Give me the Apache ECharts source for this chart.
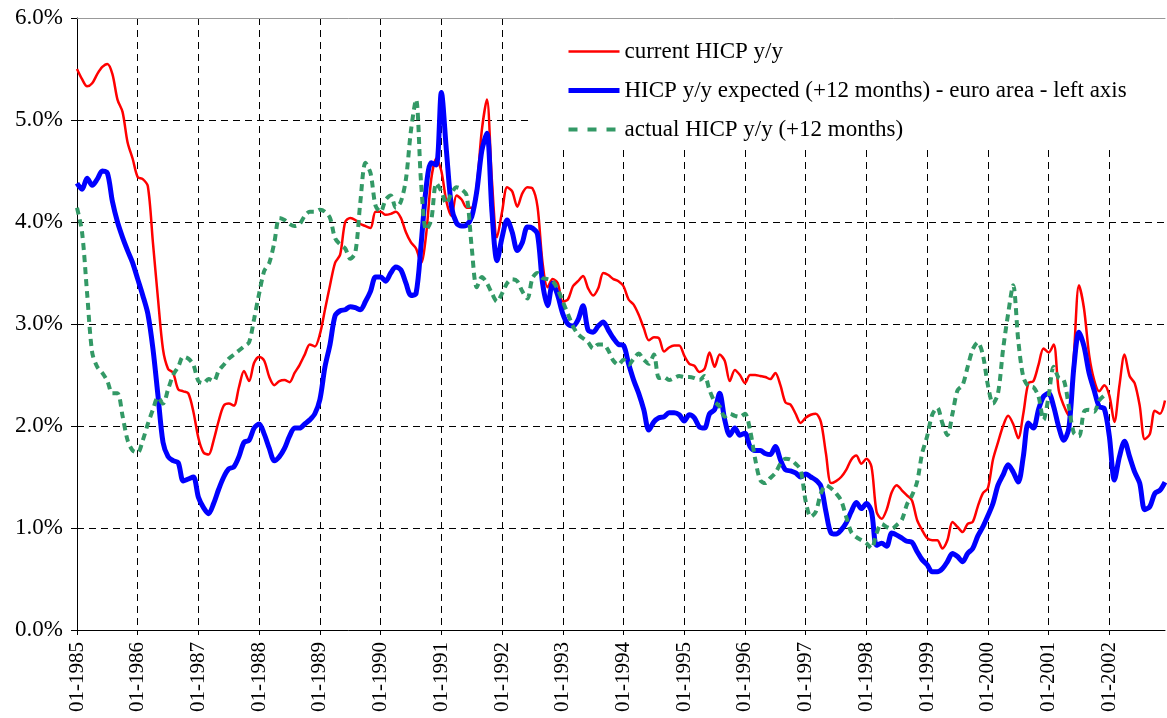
<!DOCTYPE html>
<html>
<head>
<meta charset="utf-8">
<title>HICP y/y</title>
<script src="https://cdn.jsdelivr.net/npm/echarts@6/dist/echarts.min.js"></script>
<style>
  html, body { margin: 0; padding: 0; background: #fff; }
  #chart { width: 1167px; height: 718px; }
</style>
</head>
<body>
<div id="chart"></div>
<script>
// monthly values, 01-1985 .. 12-2002, in %
const currentHicp = [
  5.5, 5.4, 5.33, 5.36, 5.45, 5.52, 5.55, 5.45, 5.2, 5.08, 4.78, 4.62,
  4.44, 4.42, 4.35, 3.8, 3.25, 2.75, 2.56, 2.52, 2.36, 2.34, 2.32, 2.14,
  1.88, 1.74, 1.72, 1.86, 2.05, 2.2, 2.22, 2.2, 2.38, 2.54, 2.44, 2.62,
  2.68, 2.64, 2.48, 2.4, 2.44, 2.45, 2.43, 2.52, 2.6, 2.7, 2.8, 2.78,
  2.9, 3.14, 3.38, 3.6, 3.68, 4.0, 4.04, 4.02, 3.98, 3.96, 3.94, 4.1,
  4.1, 4.07, 4.08, 4.1, 4.04, 3.9, 3.8, 3.74, 3.6, 3.88, 4.42, 4.62,
  4.5, 4.2, 4.06, 4.26, 4.22, 4.14, 4.14, 4.36, 4.9, 5.2, 4.4, 3.85,
  4.1, 4.34, 4.3, 4.15, 4.28, 4.34, 4.33, 4.15, 3.6, 3.36, 3.44, 3.4,
  3.22, 3.24, 3.37, 3.42, 3.47, 3.35, 3.28, 3.35, 3.5, 3.48, 3.44, 3.42,
  3.37, 3.24, 3.19, 3.09, 2.96, 2.84, 2.87, 2.86, 2.73, 2.77, 2.79, 2.79,
  2.69, 2.61, 2.59, 2.53, 2.56, 2.72, 2.58, 2.7, 2.64, 2.44, 2.55, 2.5,
  2.42, 2.5, 2.5, 2.49, 2.48, 2.46, 2.52, 2.4, 2.23, 2.21, 2.12, 2.03,
  2.08, 2.11, 2.12, 2.04, 1.73, 1.44, 1.46, 1.5, 1.57, 1.67, 1.71, 1.63,
  1.68, 1.6, 1.16, 1.09, 1.18, 1.35, 1.42, 1.37, 1.32, 1.27, 1.08, 0.98,
  0.9, 0.88, 0.88, 0.8, 0.88, 1.06, 1.01, 0.96, 1.04, 1.06, 1.21, 1.34,
  1.39, 1.67, 1.84, 2.0, 2.1, 2.02, 1.88, 2.12, 2.42, 2.44, 2.6, 2.76,
  2.72, 2.8, 2.35, 2.2, 2.1, 2.7, 3.38, 3.15, 2.7, 2.45, 2.34, 2.4,
  2.3, 2.04, 2.4, 2.7, 2.49, 2.42, 2.2, 1.87, 1.92, 2.15, 2.12, 2.25
]

const expectedHicp = [
  4.38, 4.32, 4.43, 4.36, 4.42, 4.5, 4.48, 4.2, 4.0, 3.85, 3.72, 3.6,
  3.44, 3.28, 3.1, 2.76, 2.3, 1.84, 1.7, 1.66, 1.64, 1.46, 1.48, 1.5,
  1.3, 1.2, 1.14, 1.24, 1.38, 1.5, 1.58, 1.6, 1.7, 1.84, 1.86, 1.98,
  2.02, 1.92, 1.78, 1.66, 1.7, 1.78, 1.9, 1.98, 1.98, 2.02, 2.06, 2.12,
  2.26, 2.58, 2.8, 3.08, 3.13, 3.14, 3.17, 3.16, 3.14, 3.22, 3.32, 3.46,
  3.46, 3.42, 3.5, 3.56, 3.53, 3.4, 3.28, 3.3, 3.78, 4.34, 4.58, 4.56,
  5.27, 4.7, 4.15, 3.99, 3.96, 3.97, 4.05, 4.3, 4.7, 4.87, 4.1, 3.62,
  3.85, 4.02, 3.9, 3.72, 3.8, 3.95, 3.94, 3.88, 3.4, 3.18, 3.4, 3.28,
  3.1, 3.0, 2.98, 3.04, 3.18, 2.94, 2.92, 2.98, 3.02, 2.94, 2.86, 2.8,
  2.79, 2.61, 2.45, 2.32, 2.16, 1.96, 2.04, 2.08, 2.09, 2.13, 2.13, 2.11,
  2.05, 2.11, 2.08, 1.99, 1.98, 2.12, 2.16, 2.32, 2.06, 1.91, 1.98, 1.91,
  1.93, 1.8, 1.76, 1.76, 1.73, 1.72, 1.8, 1.67, 1.57, 1.56, 1.54, 1.5,
  1.53, 1.5, 1.47, 1.41, 1.16, 0.95, 0.94, 0.98, 1.05, 1.16, 1.25, 1.19,
  1.24, 1.16, 0.83, 0.85, 0.82, 0.95, 0.93, 0.9, 0.87, 0.86, 0.77, 0.69,
  0.64, 0.57, 0.57, 0.6, 0.67, 0.75, 0.72, 0.67, 0.75, 0.8, 0.92, 1.01,
  1.12, 1.24, 1.42, 1.52, 1.62, 1.55, 1.45, 1.7, 2.03, 1.98, 2.16, 2.29,
  2.32, 2.19, 1.99, 1.86, 1.98, 2.58, 2.92, 2.78, 2.52, 2.35, 2.19, 2.17,
  1.9, 1.47, 1.7, 1.85, 1.7, 1.55, 1.44, 1.18, 1.21, 1.34, 1.37, 1.45
]

// ends with 12-2001 (nothing known 12 months ahead after that)
const actualHicp = [
  4.14, 3.9, 3.3, 2.72, 2.58, 2.52, 2.44, 2.32, 2.32, 2.1, 1.86, 1.76,
  1.74, 1.86, 2.02, 2.16, 2.28, 2.22, 2.36, 2.5, 2.58, 2.68, 2.66, 2.6,
  2.44, 2.42, 2.46, 2.44, 2.54, 2.6, 2.66, 2.7, 2.74, 2.78, 2.82, 3.05,
  3.3, 3.52, 3.6, 3.8, 4.04, 4.02, 3.98, 3.96, 3.98, 4.06, 4.1, 4.1,
  4.12, 4.1, 4.04, 3.84, 3.78, 3.74, 3.64, 3.7, 4.2, 4.58, 4.48, 4.16,
  4.1, 4.22, 4.26, 4.14, 4.2, 4.42, 4.9, 5.2, 4.38, 3.92, 4.02, 4.38,
  4.3, 4.18, 4.28, 4.34, 4.32, 4.26, 3.75, 3.36, 3.46, 3.4, 3.3, 3.22,
  3.3, 3.4, 3.44, 3.42, 3.32, 3.25, 3.45, 3.5, 3.45, 3.44, 3.42, 3.34,
  3.22, 3.1, 2.98, 2.9, 2.86, 2.82, 2.76, 2.8, 2.8, 2.74, 2.64, 2.6,
  2.65, 2.6, 2.66, 2.71, 2.65, 2.61, 2.7, 2.47, 2.48, 2.45, 2.47, 2.49,
  2.48, 2.48, 2.47, 2.45, 2.49, 2.35, 2.24, 2.19, 2.09, 2.12, 2.1, 2.09,
  2.12, 1.96, 1.68, 1.47, 1.44, 1.49, 1.54, 1.63, 1.68, 1.67, 1.63, 1.57,
  1.26, 1.11, 1.16, 1.34, 1.42, 1.39, 1.34, 1.27, 1.11, 0.96, 0.91, 0.88,
  0.85, 0.8, 0.95, 1.04, 1.01, 0.99, 1.03, 1.08, 1.23, 1.32, 1.45, 1.73,
  1.9, 2.11, 2.18, 2.03, 1.91, 2.12, 2.35, 2.4, 2.58, 2.75, 2.82, 2.7,
  2.4, 2.22, 2.32, 2.75, 3.1, 3.38, 2.84, 2.48, 2.39, 2.38, 2.29, 2.06,
  2.29, 2.58, 2.47, 2.45, 2.19, 1.93, 1.9, 2.14, 2.16, 2.14, 2.25, 2.3,
  null, null, null, null, null, null, null, null, null, null, null, null
]

const firstYear = 1985
const lastYear = 2002
const yTicks = [0, 1, 2, 3, 4, 5, 6]

const months = []
for (let y = firstYear; y <= lastYear; y++) {
  for (let m = 1; m <= 12; m++) months.push(String(m).padStart(2, '0') + '-' + y)
}

const serif = '"Liberation Serif", "Times New Roman", serif'
const isJanuary = (index) => index % 12 === 0
const gridDash = { color: '#000', width: 1, type: [7, 5] }

const nameCurrent = 'current HICP y/y'
const nameExpected = 'HICP y/y expected (+12 months) - euro area - left axis'
const nameActual = 'actual HICP y/y (+12 months)'

const chart = echarts.init(document.getElementById('chart'))

chart.setOption({
  animation: false,
  textStyle: { fontFamily: serif, color: '#000' },
  grid: { left: 77, right: 2, top: 18, bottom: 88 },
  legend: {
    orient: 'vertical',
    left: 532,
    top: 19,
    padding: [21, 60, 8, 34],
    backgroundColor: '#fff',
    itemWidth: 51,
    itemHeight: 23,
    itemGap: 16,
    // line only, no marker in the key
    itemStyle: { opacity: 0 },
    textStyle: { fontFamily: serif, fontSize: 23, color: '#000' },
    data: [
      { name: nameCurrent, lineStyle: { width: 2.5 } },
      { name: nameExpected, lineStyle: { width: 5 } },
      { name: nameActual, lineStyle: { width: 4, type: [9, 10] } },
    ],
  },
  xAxis: [
    {
      type: 'category',
      data: months,
      boundaryGap: false,
      axisLine: { lineStyle: { color: '#000', width: 1 } },
      axisTick: { interval: isJanuary, length: 5, lineStyle: { color: '#000' } },
      axisLabel: {
        interval: isJanuary,
        rotate: 90,
        margin: 12,
        fontSize: 21,
        fontFamily: serif,
        color: '#000',
      },
      splitLine: { show: true, interval: isJanuary, lineStyle: gridDash },
    },
    {
      // plain grey frame line along the top
      type: 'category',
      data: months,
      position: 'top',
      boundaryGap: false,
      axisLine: { lineStyle: { color: '#999', width: 1 } },
      axisTick: { show: false },
      axisLabel: { show: false },
      splitLine: { show: false },
    },
  ],
  yAxis: {
    type: 'value',
    min: yTicks[0],
    max: yTicks[yTicks.length - 1],
    interval: 1,
    axisLine: { show: true, lineStyle: { color: '#000', width: 1 } },
    axisTick: { show: true, length: 6, lineStyle: { color: '#000' } },
    axisLabel: {
      margin: 14,
      fontSize: 23,
      fontFamily: serif,
      color: '#000',
      formatter: (v) => v.toFixed(1) + '%',
    },
    splitLine: { show: true, showMaxLine: false, lineStyle: gridDash },
  },
  series: [
    {
      name: nameCurrent,
      type: 'line',
      data: currentHicp,
      smooth: 0.3,
      symbol: 'none',
      lineStyle: { color: '#ff0000', width: 2.5 },
      itemStyle: { color: '#ff0000' },
    },
    {
      name: nameExpected,
      type: 'line',
      data: expectedHicp,
      smooth: 0.3,
      symbol: 'none',
      lineStyle: { color: '#0000ff', width: 5 },
      itemStyle: { color: '#0000ff' },
    },
    {
      name: nameActual,
      type: 'line',
      data: actualHicp,
      smooth: 0.3,
      symbol: 'none',
      lineStyle: { color: '#339966', width: 4, type: [7, 5] },
      itemStyle: { color: '#339966' },
    },
  ],
})
</script>
</body>
</html>
